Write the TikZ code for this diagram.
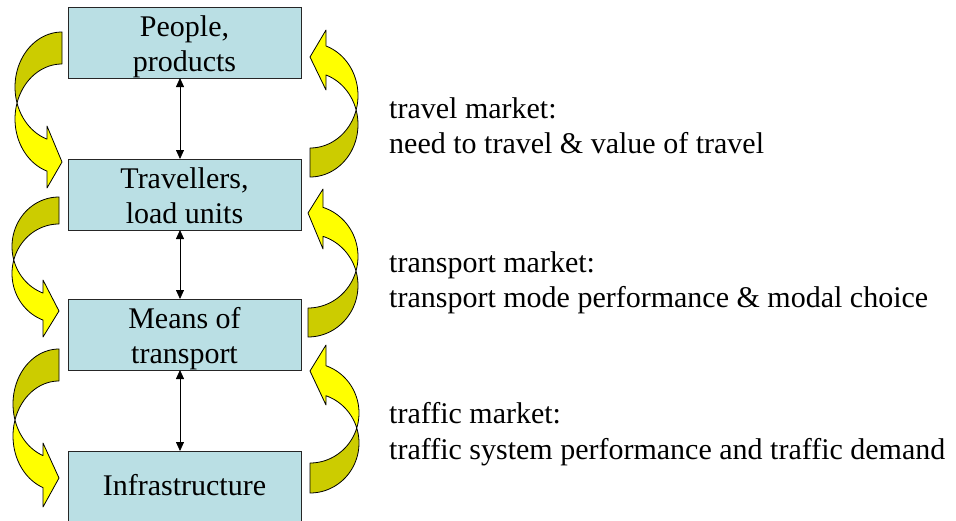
\documentclass[tikz,border=0pt]{standalone}
\usepackage{fontspec}
\setmainfont{LiberationSerif}[Extension=.ttf, UprightFont=*-Regular, BoldFont=*-Bold, ItalicFont=*-Italic, BoldItalicFont=*-BoldItalic]
\usetikzlibrary{arrows.meta}
\definecolor{boxfill}{HTML}{BADFE4}
\definecolor{bandback}{HTML}{CCCC00}
\definecolor{bandfront}{HTML}{FFFF00}
\tikzset{
  stagebox/.style={draw=black!85, line width=0.8pt, fill=boxfill, inner sep=0pt, outer sep=0pt,
    text height=29pt, text depth=42pt, anchor=north west,
    font=\fontsize{30}{35}\selectfont},
  sidetext/.style={inner sep=0pt, anchor=base west, font=\fontsize{30}{35}\selectfont},
  linkarrow/.style={line width=0.8pt, {Triangle[length=9pt,width=8pt]}-{Triangle[length=9pt,width=8pt]}},
  darkband/.style={fill=bandback, draw=black, line width=0.8pt, line join=round},
  lightband/.style={fill=bandfront, draw=black, line width=0.8pt, line join=round}
}
% #1 W, #2 ry, #3 th, #4 hx, #5 wing top, #6 tip, #7 wing bottom
\newcommand\curvyarrow[7]{%
  \pgfmathsetmacro\cvA{asin(#3/(2*#2))}%
  \pgfmathsetmacro\cvB{acos(-#4/#1)}%
  \pgfmathsetmacro\cvP{180-\cvA}%
  \pgfmathsetmacro\cvQ{180+\cvA}%
  \filldraw[darkband] plot[domain=270:\cvP, samples=40] ({#1*cos(\x)},{#2+#2*sin(\x)})
     -- plot[domain=\cvQ:270, samples=40] ({#1*cos(\x)},{#2+#3+#2*sin(\x)}) -- cycle;
  \filldraw[lightband] plot[domain=\cvP:\cvB, samples=40] ({#1*cos(\x)},{#2+#2*sin(\x)})
     -- (-#4,#5) -- (0,#6) -- (-#4,#7)
     -- plot[domain=\cvB:\cvQ, samples=40] ({#1*cos(\x)},{#2+#3+#2*sin(\x)}) -- cycle;
}
\begin{document}
\begin{tikzpicture}[x=1pt, y=-1pt]
\useasboundingbox (0,0) rectangle (956,520);

% boxes
\node[stagebox] (b1) at (68,7) {\parbox[t]{233pt}{\centering People,\\products}};
\node[stagebox] (b2) at (68,159) {\parbox[t]{233pt}{\centering Travellers,\\load units}};
\node[stagebox] (b3) at (68,299) {\parbox[t]{233pt}{\centering Means of\\transport}};
\node[stagebox, text height=44pt, text depth=28pt] (b4) at (68,451) {\parbox[t]{233pt}{\centering Infrastructure}};

% links
\draw[linkarrow] ([xshift=-4.5pt]b1.south) -- ([xshift=-4.5pt]b2.north);
\draw[linkarrow] ([xshift=-4.5pt]b2.south) -- ([xshift=-4.5pt]b3.north);
\draw[linkarrow] ([xshift=-4.5pt]b3.south) -- ([xshift=-4.5pt]b4.north);

% left curved arrows
\begin{scope}[shift={(62,32)}]\curvyarrow{47}{55}{32}{15}{94}{130}{156}\end{scope}
\begin{scope}[shift={(59,197)}]\curvyarrow{47}{49.5}{27}{16}{83}{114}{140}\end{scope}
\begin{scope}[shift={(59,349)}]\curvyarrow{46}{55}{32}{16}{94}{129}{158}\end{scope}

% right curved arrows
\begin{scope}[shift={(310,177)}, rotate=180]\curvyarrow{48}{52.5}{29}{16}{87}{120}{147}\end{scope}
\begin{scope}[shift={(308,337)}, rotate=180]\curvyarrow{50}{51.5}{29}{15}{88}{124}{148}\end{scope}
\begin{scope}[shift={(310,493)}, rotate=180]\curvyarrow{49}{50}{30}{16}{88}{122}{148}\end{scope}

% side texts
\node[sidetext] (m1) at (389,118) {\parbox[t]{560pt}{\raggedright travel market:\\need to travel \& value of travel}};
\node[sidetext] (m2) at (389,272) {\parbox[t]{560pt}{\raggedright transport market:\\transport mode performance \& modal choice}};
\node[sidetext] (m3) at (389,423) {\parbox[t]{560pt}{\raggedright\baselineskip=36pt traffic market:\\traffic system performance and traffic demand}};
\end{tikzpicture}
\end{document}
